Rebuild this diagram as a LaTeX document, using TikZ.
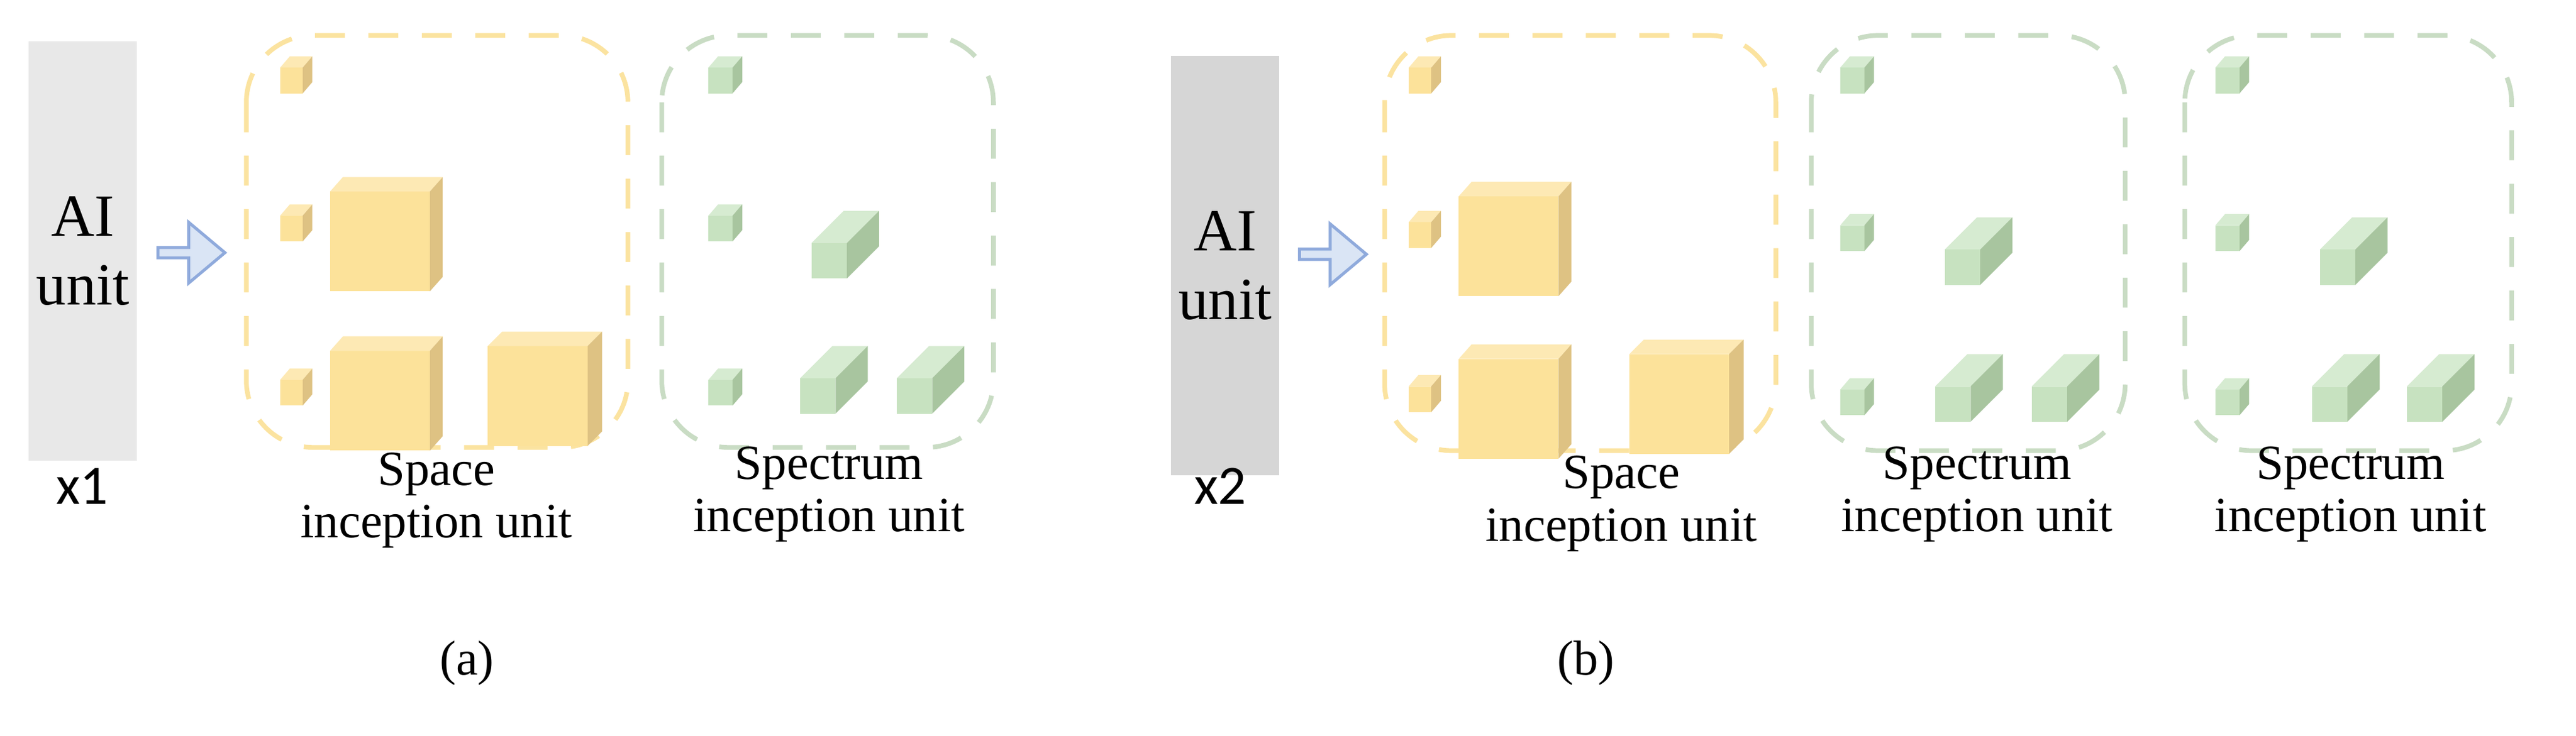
\documentclass[tikz,border=0pt]{standalone}
\usepackage{fontspec}
\usetikzlibrary{shapes.arrows}
\setmainfont{Liberation Serif}
\newfontfamily\xfont{Carlito}
\definecolor{yfront}{HTML}{FCE29A}
\definecolor{ytop}{HTML}{FDE9B4}
\definecolor{yside}{HTML}{DEC283}
\definecolor{gfront}{HTML}{C7E2C0}
\definecolor{gtop}{HTML}{D6EBD1}
\definecolor{gside}{HTML}{A8C59F}
\definecolor{ydash}{HTML}{FBE3A0}
\definecolor{gdash}{HTML}{C9DCC4}
\definecolor{arrd}{HTML}{8FAADC}
\definecolor{arrf}{HTML}{DAE5F5}
\newcommand\mycube[7]{%
  \fill[#7front] (#1,#2) rectangle ++(#3,#4);
  \fill[#7top] (#1,#2+#4) -- ++(#5,-#6) -- ++(#3,0) -- ++(-#5,#6) -- cycle;
  \fill[#7side] (#1+#3,#2) -- ++(#5,-#6) -- ++(0,#4) -- ++(-#5,#6) -- cycle;}
\tikzset{
  aibox/.style={minimum width=1.78cm, minimum height=6.9cm, inner sep=0pt, align=center, font=\fontsize{28}{32}\selectfont},
  ybox/.style={draw=ydash, line width=2.2pt, dash pattern=on 14pt off 11pt, rounded corners=1.1cm},
  gbox/.style={draw=gdash, line width=2.2pt, dash pattern=on 14pt off 11pt, rounded corners=1.1cm},
  lbl/.style={align=center, font=\fontsize{23}{24.5}\selectfont},
  blk/.style={single arrow, draw=arrd, fill=arrf, line width=1.4pt, minimum height=1.1cm, minimum width=1.0cm, single arrow head extend=0.12cm, single arrow tip angle=80, inner sep=0pt}
}
\begin{document}
\begin{tikzpicture}[x=0.02648cm,y=-0.02648cm]
\useasboundingbox (0,0) rectangle (1600,457);
% ---------- (a)
\node[aibox, fill=black!9] (ai1) at (51.5,156) {AI\\unit};
\node[font=\xfont\fontsize{26}{30}\selectfont] (x1) at (51,302) {x1};
\node[blk] (ar1) at (117,157) {};
\draw[ybox] (153,22) rectangle (390,278);
\draw[gbox] (411,22) rectangle (617,278);
\foreach \y in {58,150,252}{\mycube{174}{\y}{14}{-16}{6}{7}{y}}
\mycube{205}{181}{62}{-62}{8}{9}{y}
\mycube{205}{280}{62}{-62}{8}{9}{y}
\mycube{303}{277}{62}{-62}{9}{9}{y}
\foreach \y in {58,150,252}{\mycube{440}{\y}{15}{-16}{6}{7}{g}}
\mycube{504}{173}{22}{-22}{20}{20}{g}
\mycube{497}{257}{22}{-22}{20}{20}{g}
\mycube{557}{257}{22}{-22}{20}{20}{g}
\node[lbl] (sp1) at (271,311) {Space\\inception unit};
\node[lbl] (sc1) at (515,307) {Spectrum\\inception unit};
\node[lbl] (ca) at (290,412) {(a)};
% ---------- (b)
\node[aibox, fill=black!16] (ai2) at (761,165) {AI\\unit};
\node[font=\xfont\fontsize{26}{30}\selectfont] (x2) at (758,302) {x2};
\node[blk] (ar2) at (826,158) {};
\draw[ybox] (860,22) rectangle (1103,280);
\draw[gbox] (1125,22) rectangle (1320,280);
\draw[gbox] (1357,22) rectangle (1560,280);
\foreach \y in {58,154,256}{\mycube{875}{\y}{14}{-16}{6}{7}{y}}
\mycube{906}{184}{62}{-62}{8}{9}{y}
\mycube{906}{285}{62}{-62}{8}{9}{y}
\mycube{1012}{282}{62}{-62}{9}{9}{y}
\foreach \y in {58,156,258}{\mycube{1143}{\y}{15}{-16}{6}{7}{g}}
\mycube{1208}{177}{22}{-22}{20}{20}{g}
\mycube{1202}{262}{22}{-22}{20}{20}{g}
\mycube{1262}{262}{22}{-22}{20}{20}{g}
\foreach \y in {58,156,258}{\mycube{1376}{\y}{15}{-16}{6}{7}{g}}
\mycube{1441}{177}{22}{-22}{20}{20}{g}
\mycube{1436}{262}{22}{-22}{20}{20}{g}
\mycube{1495}{262}{22}{-22}{20}{20}{g}
\node[lbl] (sp2) at (1007,313) {Space\\inception unit};
\node[lbl] (sc2) at (1228,307) {Spectrum\\inception unit};
\node[lbl] (sc3) at (1460,307) {Spectrum\\inception unit};
\node[lbl] (cb) at (985,412) {(b)};
\end{tikzpicture}
\end{document}
